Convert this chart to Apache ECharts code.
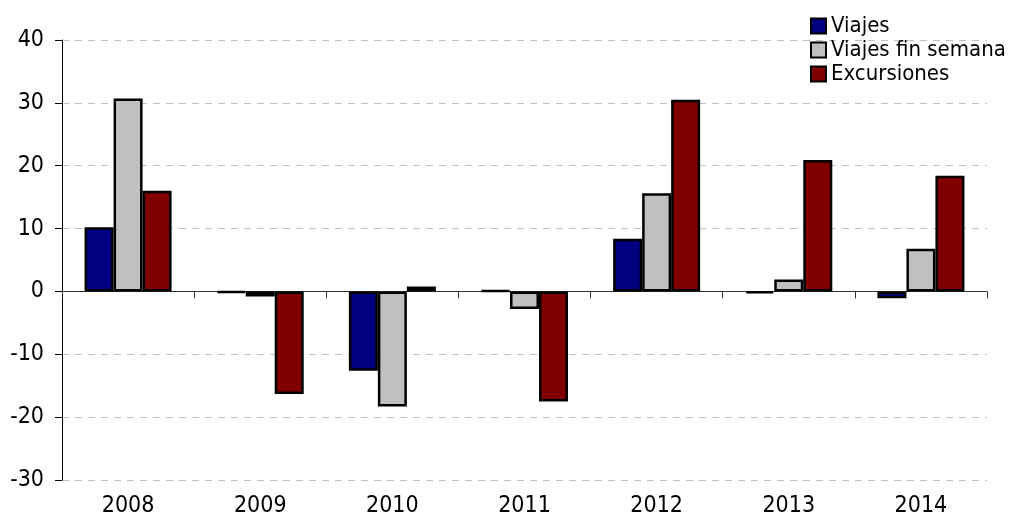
<!DOCTYPE html>
<html>
<head>
<meta charset="utf-8">
<script src="https://cdn.jsdelivr.net/npm/echarts@6/dist/echarts.min.js"></script>
<style>
html,body{margin:0;padding:0;background:#fff;}
#chart{width:1018px;height:528px;}
</style>
</head>
<body>
<div id="chart"></div>
<script>
// datos
const years = ['2008','2009','2010','2011','2012','2013','2014']
const viajes = [10.2, -0.2, -12.6, 0.1, 8.4, -0.3, -1.1]
const viajesFinSemana = [30.7, -0.8, -18.3, -2.8, 15.6, 1.9, 6.8]
const excursiones = [16.0, -16.3, 0.8, -17.5, 30.5, 20.9, 18.4]

const FONT = '"DejaVu Sans Condensed", "DejaVu Sans", sans-serif'

const chart = echarts.init(document.getElementById('chart'))

const barStyle = (color) => ({
    color: color,
    borderColor: '#000',
    borderWidth: 2.5
})

const option = {
    animation: false,
    textStyle: { fontFamily: FONT },
    grid: { left: 62, right: 31, top: 40, bottom: 48 },
    legend: {
        orient: 'vertical',
        left: 810,
        top: 15,
        padding: 0,
        itemWidth: 15,
        itemHeight: 15,
        itemGap: 2,
        icon: 'rect',
        textStyle: { fontFamily: FONT, fontSize: 22, color: '#000' },
        data: ['Viajes', 'Viajes fin semana', 'Excursiones']
    },
    xAxis: [
        {
            type: 'category',
            data: years,
            position: 'bottom',
            axisLine: { show: false, onZero: false },
            axisTick: { show: false },
            axisLabel: { fontFamily: FONT, fontSize: 23, color: '#000', margin: 15 }
        },
        {
            type: 'category',
            data: years,
            position: 'bottom',
            axisLine: { show: true, onZero: true, lineStyle: { color: '#333', width: 1 } },
            axisTick: { show: true, length: 7, lineStyle: { color: '#333' } },
            axisLabel: { show: false }
        }
    ],
    yAxis: {
        type: 'value',
        min: -30,
        max: 40,
        interval: 10,
        axisLine: { show: true, lineStyle: { color: '#000', width: 1 } },
        axisTick: { show: true, length: 7, lineStyle: { color: '#000' } },
        axisLabel: { fontFamily: FONT, fontSize: 23, color: '#000', margin: 18 },
        splitLine: { show: true, lineStyle: { color: '#c0c0c0', type: [7, 6], width: 1 } }
    },
    series: [
        {
            name: 'Viajes',
            type: 'bar',
            data: viajes,
            barWidth: 29,
            barGap: '0%',
            itemStyle: barStyle('#000080')
        },
        {
            name: 'Viajes fin semana',
            type: 'bar',
            data: viajesFinSemana,
            barWidth: 29,
            barGap: '0%',
            itemStyle: barStyle('#c0c0c0')
        },
        {
            name: 'Excursiones',
            type: 'bar',
            data: excursiones,
            barWidth: 29,
            barGap: '0%',
            itemStyle: barStyle('#800000')
        }
    ]
}

chart.setOption(option)
</script>
</body>
</html>
